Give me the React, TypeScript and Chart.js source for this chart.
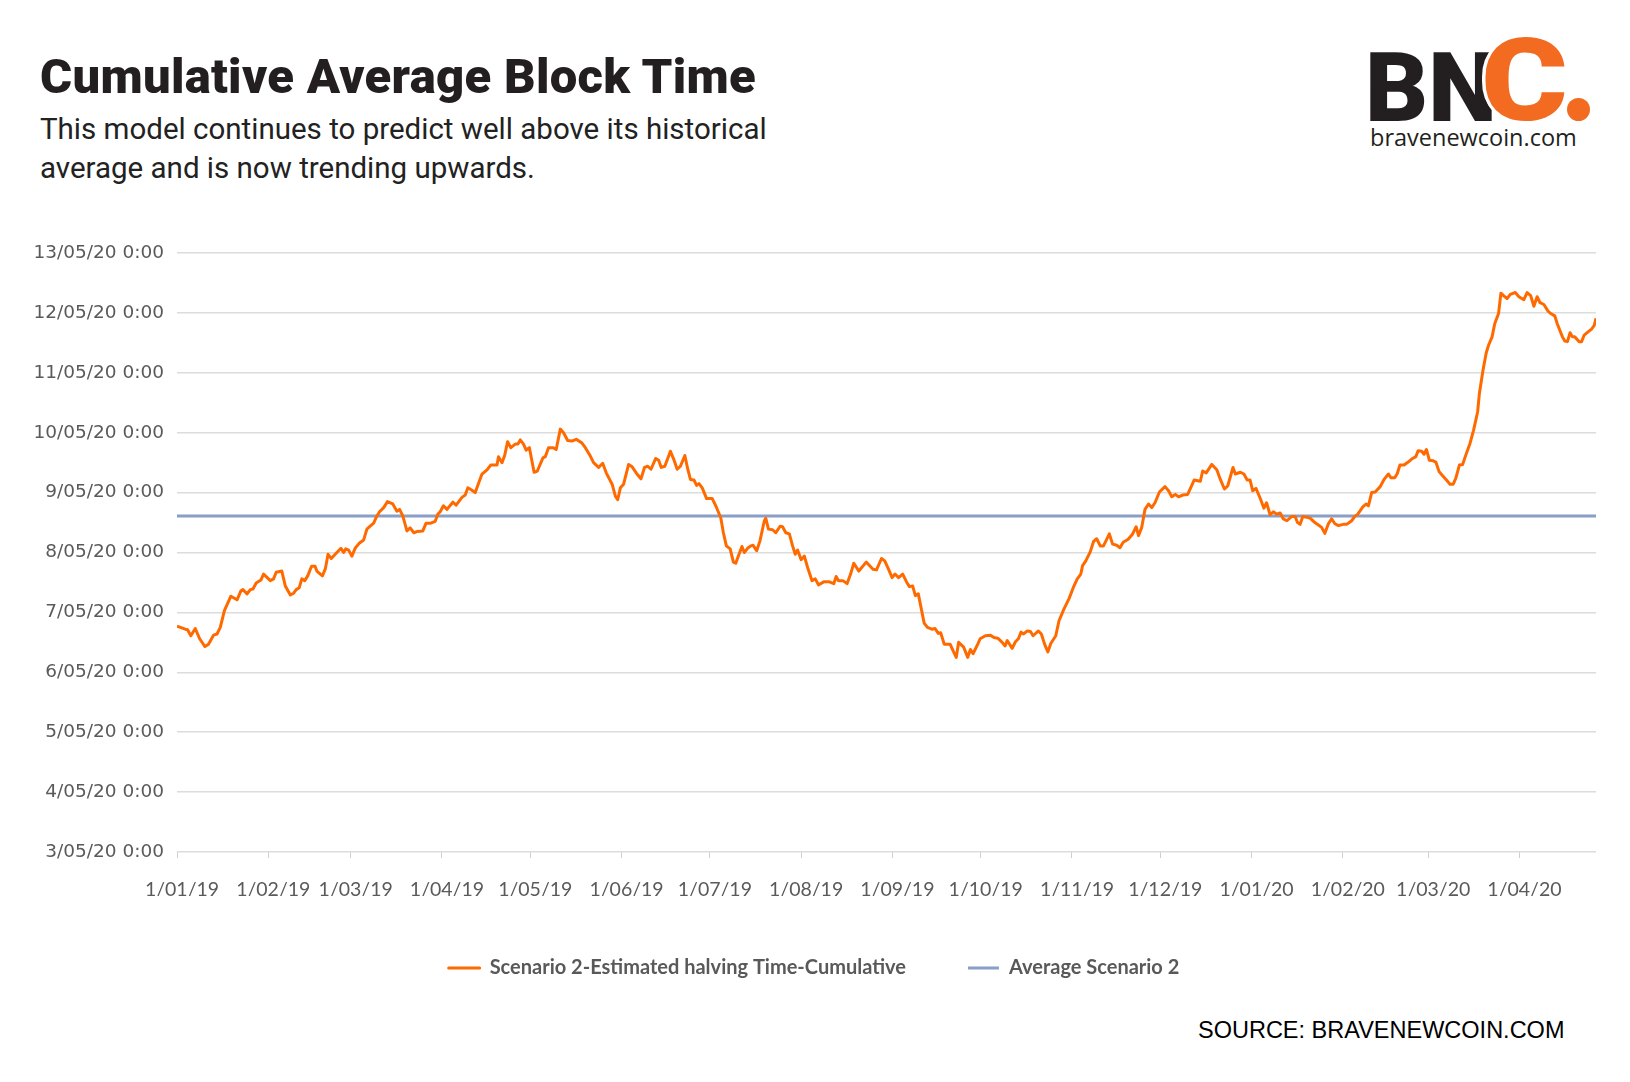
import React, { useEffect, useRef } from "react";
import { Chart, registerables } from "chart.js";

Chart.register(...registerables);

// ---- Data -------------------------------------------------------------
// x = days since 1 Jan 2019, y = day of May 2020 (estimated halving date)
const monthTickDays = [0, 31, 59, 90, 120, 151, 181, 212, 243, 273, 304, 334, 365, 396, 425, 456];
const monthTickLabels = [
  "1/01/19", "1/02/19", "1/03/19", "1/04/19", "1/05/19", "1/06/19", "1/07/19", "1/08/19",
  "1/09/19", "1/10/19", "1/11/19", "1/12/19", "1/01/20", "1/02/20", "1/03/20", "1/04/20",
];
const yMin = 3;
const yMax = 13;

const seriesJanApr2019: [number, number][] = [
  [0, 6.77], [2.8, 6.72], [3.6, 6.71], [4.7, 6.61], [6.2, 6.73], [7.7, 6.56], [9.5, 6.43], [10.7, 6.47],
  [12.4, 6.62], [13.6, 6.64], [14.7, 6.75], [16.1, 7.03], [18.3, 7.27], [20.4, 7.21], [21.7, 7.36],
  [22.4, 7.38], [23.8, 7.31], [24.9, 7.38], [25.8, 7.39], [26.9, 7.49], [28.5, 7.54], [29.4, 7.64],
  [31.7, 7.53], [32.8, 7.56], [33.7, 7.67], [35.6, 7.69], [36.8, 7.44], [38.5, 7.29], [39.6, 7.32],
  [40.5, 7.38], [41.5, 7.41], [42.4, 7.56], [43.4, 7.53], [44.4, 7.61], [45.7, 7.77], [46.9, 7.77],
  [47.5, 7.69], [49.4, 7.61], [50.4, 7.73], [51.3, 7.97], [52.4, 7.9], [54.3, 8.0], [55.7, 8.07],
  [56.6, 8.0], [57.3, 8.06], [58.3, 8.04], [59.4, 7.94], [60.5, 8.07], [62.0, 8.16], [63.4, 8.21],
  [64.5, 8.39], [65.6, 8.44], [66.8, 8.49], [67.9, 8.61], [68.8, 8.68], [70.2, 8.75], [71.5, 8.85],
  [73.3, 8.81], [74.7, 8.69], [75.6, 8.72], [76.7, 8.61], [78.1, 8.36], [79.2, 8.41], [80.4, 8.33],
  [81.5, 8.35], [83.5, 8.36], [84.6, 8.49], [86.2, 8.49], [87.7, 8.52], [88.6, 8.64], [89.4, 8.68],
  [90.5, 8.78], [91.7, 8.72], [93.7, 8.84], [94.8, 8.79], [96.8, 8.92], [97.9, 8.96], [98.8, 9.08],
  [100.2, 9.04], [101.3, 9.0], [102.4, 9.15], [103.6, 9.31], [105.3, 9.38], [106.6, 9.46],
  [108.7, 9.46], [109.2, 9.6], [110.4, 9.5], [111.3, 9.62], [112.3, 9.85], [113.4, 9.75],
  [114.9, 9.81], [115.8, 9.81], [116.6, 9.88], [117.7, 9.81], [118.6, 9.71], [119.7, 9.75],
];

const seriesMayAug2019: [number, number][] = [
  [121.3, 9.34], [122.4, 9.36], [124.3, 9.58], [125.1, 9.6], [126.2, 9.75], [127.7, 9.75], [128.8, 9.72],
  [130.2, 10.06], [131.3, 10.0], [132.7, 9.87], [134.1, 9.86], [135.6, 9.89], [137.5, 9.83], [138.7, 9.75],
  [140.4, 9.61], [141.5, 9.5], [143.2, 9.42], [144.6, 9.49], [145.8, 9.33], [147.8, 9.14], [148.9, 8.94],
  [149.7, 8.88], [150.6, 9.08], [151.7, 9.14], [153.4, 9.47], [154.6, 9.43], [156.1, 9.32], [157.6, 9.23],
  [158.8, 9.42], [159.9, 9.44], [161.0, 9.39], [162.6, 9.57], [163.6, 9.54], [164.5, 9.42], [165.7, 9.44],
  [167.6, 9.69], [168.7, 9.56], [169.9, 9.39], [171.0, 9.44], [172.5, 9.62], [173.5, 9.39], [174.4, 9.22],
  [175.6, 9.21], [176.5, 9.12], [177.3, 9.15], [178.4, 9.08], [179.9, 8.9], [181.8, 8.9], [183.0, 8.78],
  [184.7, 8.58], [185.6, 8.33], [186.6, 8.11], [187.9, 8.06], [189.0, 7.84], [189.8, 7.82], [190.9, 7.97],
  [191.9, 8.1], [192.7, 8.0], [193.8, 8.07], [194.9, 8.11], [195.7, 8.12], [196.9, 8.03], [198.0, 8.19],
  [199.5, 8.53], [200.0, 8.57], [200.9, 8.39], [202.3, 8.38], [203.4, 8.33], [204.9, 8.44], [205.7, 8.43],
  [206.8, 8.33], [208.0, 8.31], [209.1, 8.11], [210.0, 7.97], [210.8, 8.04], [212.0, 7.88], [213.1, 7.94],
  [214.2, 7.75], [215.7, 7.53], [216.8, 7.56], [217.9, 7.46], [219.7, 7.51], [221.6, 7.51], [223.1, 7.48],
  [223.9, 7.6], [224.7, 7.53], [226.2, 7.53], [227.6, 7.48], [228.8, 7.64], [229.9, 7.82], [231.6, 7.69],
  [234.1, 7.84], [236.4, 7.72], [237.6, 7.71], [239.3, 7.9], [240.4, 7.86], [241.6, 7.73], [242.9, 7.58],
];

const seriesSepDec2019: [number, number][] = [
  [243.9, 7.64], [245.1, 7.58], [246.5, 7.64], [247.9, 7.5], [248.8, 7.43], [249.9, 7.44], [250.8, 7.28],
  [251.8, 7.31], [253.8, 6.82], [254.9, 6.75], [256.4, 6.72], [257.5, 6.73], [258.6, 6.65], [259.4, 6.66],
  [260.6, 6.47], [262.6, 6.47], [263.8, 6.34], [264.7, 6.25], [265.5, 6.5], [267.2, 6.42], [268.6, 6.25],
  [269.5, 6.38], [270.4, 6.31], [272.0, 6.47], [272.8, 6.56], [274.6, 6.61], [276.3, 6.62], [277.5, 6.58],
  [278.8, 6.57], [280.3, 6.5], [281.3, 6.44], [282.0, 6.53], [283.7, 6.4], [284.8, 6.51], [285.8, 6.56],
  [286.7, 6.67], [287.6, 6.64], [288.8, 6.69], [289.9, 6.68], [290.8, 6.61], [292.6, 6.69], [293.6, 6.64],
  [294.7, 6.47], [295.8, 6.34], [296.8, 6.48], [298.5, 6.61], [299.6, 6.86], [301.3, 7.06], [303.0, 7.23],
  [304.5, 7.42], [305.8, 7.56], [307.0, 7.64], [307.6, 7.78], [308.7, 7.86], [310.2, 8.01], [311.3, 8.18],
  [312.4, 8.23], [313.6, 8.11], [314.7, 8.11], [316.7, 8.31], [317.8, 8.14], [319.2, 8.12], [320.3, 8.08],
  [321.4, 8.17], [323.1, 8.22], [324.6, 8.31], [325.8, 8.43], [326.6, 8.28], [327.7, 8.42], [328.8, 8.72],
  [330.0, 8.81], [331.1, 8.75], [332.2, 8.83], [333.7, 9.01], [335.6, 9.1], [336.8, 9.03], [337.9, 8.93],
  [339.1, 8.97], [340.2, 8.93], [341.7, 8.96], [343.3, 8.97], [344.7, 9.12], [345.5, 9.21], [347.6, 9.19],
  [348.4, 9.36], [349.6, 9.33], [351.5, 9.47], [353.2, 9.38], [354.4, 9.22], [355.8, 9.06], [356.9, 9.11],
  [358.7, 9.42], [359.5, 9.31], [361.2, 9.34], [362.4, 9.31], [363.5, 9.21],
];

const seriesJanApr2020: [number, number][] = [
  [364.5, 9.21], [365.4, 9.03], [366.5, 9.07], [367.9, 8.91], [369.2, 8.74], [370.1, 8.83], [371.3, 8.63],
  [372.4, 8.68], [373.6, 8.64], [374.7, 8.66], [375.8, 8.56], [377.0, 8.53], [378.6, 8.6], [379.8, 8.6],
  [380.6, 8.5], [381.5, 8.47], [382.4, 8.6], [383.7, 8.59], [385.0, 8.57], [386.5, 8.5], [387.7, 8.46],
  [388.8, 8.42], [389.9, 8.32], [391.1, 8.48], [392.2, 8.56], [393.3, 8.48], [394.5, 8.45], [396.2, 8.47],
  [397.3, 8.47], [399.0, 8.53], [400.2, 8.61], [400.9, 8.63], [402.8, 8.76], [403.9, 8.81], [404.7, 8.78],
  [405.8, 9.0], [407.0, 9.01], [408.7, 9.1], [410.0, 9.22], [411.5, 9.31], [412.3, 9.25], [413.7, 9.25],
  [414.5, 9.32], [415.4, 9.46], [416.8, 9.46], [418.2, 9.51], [419.7, 9.57], [420.8, 9.6], [421.6, 9.7],
  [422.8, 9.69], [423.6, 9.64], [424.4, 9.72], [425.4, 9.54], [426.7, 9.53], [427.6, 9.51], [428.7, 9.35],
  [429.9, 9.28], [431.2, 9.21], [432.4, 9.14], [433.5, 9.14], [434.4, 9.24], [435.6, 9.46], [436.7, 9.47],
  [437.8, 9.63], [439.2, 9.82], [440.4, 10.04], [441.8, 10.35], [442.4, 10.66], [443.6, 11.04],
  [444.7, 11.33], [445.5, 11.46], [446.7, 11.6], [447.6, 11.82], [448.9, 11.99], [449.7, 12.33],
  [450.6, 12.29], [451.8, 12.24], [452.9, 12.31], [454.6, 12.34], [455.8, 12.27], [457.5, 12.22],
  [458.6, 12.34], [459.8, 12.29], [460.9, 12.11], [462.0, 12.27], [463.0, 12.17], [464.3, 12.14],
  [465.7, 12.03], [466.6, 11.99], [468.0, 11.95], [468.9, 11.81], [470.6, 11.6], [471.4, 11.53],
  [472.3, 11.52], [473.2, 11.67], [474.0, 11.6], [474.8, 11.6], [476.3, 11.52], [477.1, 11.52],
  [478.0, 11.63], [479.2, 11.68], [480.5, 11.73], [481.4, 11.79], [482.0, 11.91],
];

const averageScenario2 = 8.61;
const seriesNames = ["Scenario 2-Estimated halving Time-Cumulative", "Average Scenario 2"];
const seriesColors = ["#ff6a00", "#8a9ec6"];

// ----------------------------------------------------------------------

const blockTimeSeries = [...seriesJanApr2019, ...seriesMayAug2019, ...seriesSepDec2019, ...seriesJanApr2020];

function BlockTimeChart() {
  const ref = useRef<HTMLCanvasElement | null>(null);
  useEffect(() => {
    if (!ref.current) return;
    const firstDay = blockTimeSeries[0][0];
    const lastDay = blockTimeSeries[blockTimeSeries.length - 1][0];
    const chart = new Chart(ref.current, {
      type: "line",
      data: {
        datasets: [
          {
            label: seriesNames[0],
            data: blockTimeSeries.map(([x, y]) => ({ x, y })),
            borderColor: seriesColors[0],
            backgroundColor: seriesColors[0],
            borderWidth: 3,
            pointRadius: 0,
            tension: 0,
            borderJoinStyle: "round",
          },
          {
            label: seriesNames[1],
            data: [
              { x: firstDay, y: averageScenario2 },
              { x: lastDay, y: averageScenario2 },
            ],
            borderColor: seriesColors[1],
            backgroundColor: seriesColors[1],
            borderWidth: 3,
            pointRadius: 0,
            tension: 0,
          },
        ],
      },
      options: {
        responsive: false,
        animation: false,
        devicePixelRatio: 1,
        events: [],
        layout: { padding: { left: 32, right: 34, top: 53, bottom: 12 } },
        scales: {
          x: {
            type: "linear",
            min: firstDay,
            max: lastDay,
            afterBuildTicks: (axis: any) => {
              axis.ticks = monthTickDays.map((v) => ({ value: v }));
            },
            afterFit: (axis: any) => {
              axis.height = 44;
            },
            ticks: {
              autoSkip: false,
              maxRotation: 0,
              padding: 20,
              labelOffset: 5,
              color: "#5a5a5a",
              font: { family: "Lato", size: 19.5 },
              callback: (_v: any, i: number) => monthTickLabels[i],
            },
            grid: {
              drawOnChartArea: false,
              drawTicks: true,
              tickLength: 6,
              color: "#cfcfcf",
              lineWidth: 1,
            },
            border: { display: false },
          },
          y: {
            min: yMin,
            max: yMax,
            afterFit: (axis: any) => {
              axis.width = 145;
            },
            ticks: {
              stepSize: 1,
              padding: 13,
              color: "#5a5a5a",
              font: { family: "DejaVu Sans", size: 18.5 },
              callback: (v: any) => `${v}/05/20 0:00`,
            },
            grid: { color: "#dcdcdc", lineWidth: 1.5, drawTicks: false },
            border: { display: false },
          },
        },
        plugins: {
          tooltip: { enabled: false },
          legend: {
            position: "bottom",
            labels: {
              boxWidth: 31,
              boxHeight: 0,
              padding: 62,
              color: "#595959",
              font: { family: "Lato", size: 20, weight: "bold" },
            },
          },
        },
      } as any,
    });
    return () => chart.destroy();
  }, []);
  return (
    <canvas
      ref={ref}
      width={1630}
      height={800}
      style={{ position: "absolute", left: 0, top: 200, width: 1630, height: 800 }}
    />
  );
}

export default function App() {
  return (
    <div
      style={{
        position: "absolute",
        left: 0,
        top: 0,
        width: 1630,
        height: 1082,
        background: "#ffffff",
        overflow: "hidden",
      }}
    >
      <div
        style={{
          position: "absolute",
          left: 40,
          top: 52,
          fontFamily: "Roboto",
          fontWeight: 900,
          fontSize: 49,
          lineHeight: "49px",
          color: "#231f20",
          whiteSpace: "nowrap",
          letterSpacing: 0.3,
        }}
      >
        Cumulative Average Block Time
      </div>
      <div
        style={{
          position: "absolute",
          left: 40,
          top: 110,
          fontFamily: "Roboto",
          fontWeight: 400,
          fontSize: 29.5,
          lineHeight: "38.5px",
          color: "#222222",
          whiteSpace: "nowrap",
        }}
      >
        This model continues to predict well above its historical
        <br />
        average and is now trending upwards.
      </div>

      {/* Logo */}
      <div
        style={{
          position: "absolute",
          left: 1365,
          top: 40,
          fontFamily: "Roboto",
          fontWeight: 900,
          fontSize: 96,
          lineHeight: "96px",
          color: "#231f20",
          whiteSpace: "nowrap",
          transform: "scaleX(1.02)",
          transformOrigin: "left top",
        }}
      >
        BN
      </div>
      <div
        style={{
          position: "absolute",
          left: 1481,
          top: 23,
          fontFamily: "Roboto",
          fontWeight: 900,
          fontSize: 115,
          lineHeight: "115px",
          color: "#f26b21",
          whiteSpace: "nowrap",
          transform: "scaleX(1.15)",
          transformOrigin: "left top",
          textShadow:
            "-3px 0 0 #fff, 3px 0 0 #fff, 0 -3px 0 #fff, 0 3px 0 #fff, -2px -2px 0 #fff, 2px 2px 0 #fff, -2px 2px 0 #fff, 2px -2px 0 #fff",
        }}
      >
        C
      </div>
      <div
        style={{
          position: "absolute",
          left: 1567,
          top: 98,
          width: 23,
          height: 23,
          borderRadius: "50%",
          background: "#f26b21",
        }}
      />
      <div
        style={{
          position: "absolute",
          left: 1370,
          top: 126,
          fontFamily: "Open Sans",
          fontSize: 23.5,
          lineHeight: "23.5px",
          color: "#231f20",
          whiteSpace: "nowrap",
        }}
      >
        bravenewcoin.com
      </div>

      <BlockTimeChart />

      <div
        style={{
          position: "absolute",
          left: 1198,
          top: 1018.5,
          fontFamily: "Liberation Sans",
          fontSize: 23.5,
          lineHeight: "23.5px",
          color: "#000000",
          whiteSpace: "nowrap",
        }}
      >
        SOURCE: BRAVENEWCOIN.COM
      </div>
    </div>
  );
}
